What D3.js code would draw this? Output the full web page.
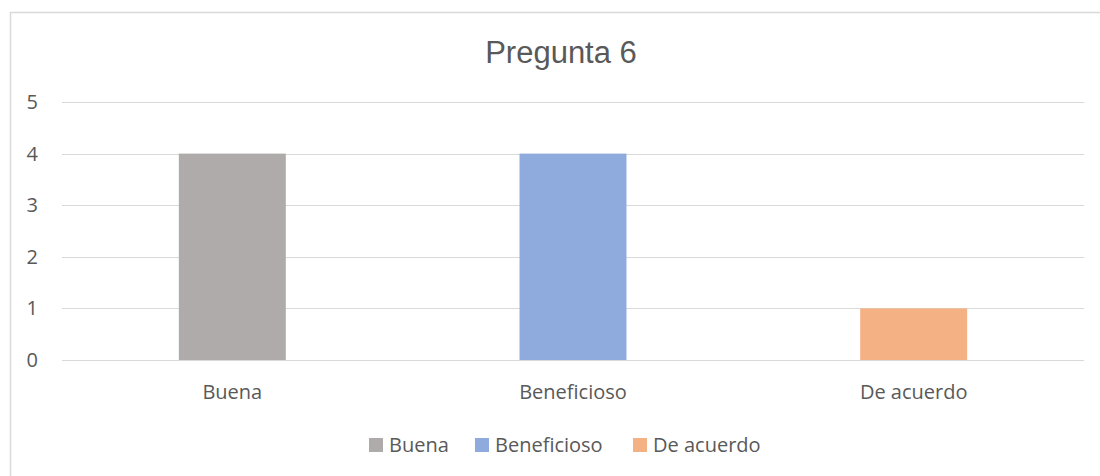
<!DOCTYPE html>
<html lang="es">
<meta charset="UTF-8">
<style>
    body { margin: 0; background: #fff; }
    .grid line { stroke: #d9d9d9; stroke-width: 1px; }
    .tick-label, .cat-label, .legend text {
        font-family: "Open Sans", sans-serif;
        font-size: 20px;
        fill: #595959;
    }
    .title {
        font-family: "Liberation Sans", Arial, sans-serif;
        font-size: 31px;
        fill: #595959;
    }
</style>
<body>
<svg id="chart" width="1100" height="476"></svg>
<script src="https://d3js.org/d3.v7.min.js"></script>
<script>
// data
const categories = ["Buena", "Beneficioso", "De acuerdo"];
const values = [4, 4, 1];
const yTicks = [0, 1, 2, 3, 4, 5];
const colors = ["#afabab", "#8faadc", "#f4b183"];

const svg = d3.select("#chart");
const plot = {left: 62, right: 1084, top: 102, bottom: 360};

// outer frame (runs off the right and bottom edge)
svg.append("rect")
    .attr("x", 10.5).attr("y", 12.5)
    .attr("width", 1200).attr("height", 600)
    .attr("fill", "none")
    .attr("stroke", "#d9d9d9")
    .attr("stroke-width", 1.5);

svg.append("text")
    .attr("class", "title")
    .attr("x", 561).attr("y", 63)
    .attr("text-anchor", "middle")
    .text("Pregunta 6");

const x = d3.scaleBand()
    .domain(categories)
    .range([plot.left, plot.right])
    .padding(0);

const y = d3.scaleLinear()
    .domain([0, 5])
    .range([plot.bottom, plot.top]);

// gridlines
svg.append("g").attr("class", "grid")
    .selectAll("line").data(yTicks)
    .enter().append("line")
    .attr("x1", plot.left).attr("x2", plot.right)
    .attr("y1", d => Math.round(y(d)) + 0.5)
    .attr("y2", d => Math.round(y(d)) + 0.5);

svg.append("g")
    .selectAll("text").data(yTicks)
    .enter().append("text")
    .attr("class", "tick-label")
    .attr("x", 38)
    .attr("y", d => y(d))
    .attr("dy", "0.35em")
    .attr("text-anchor", "end")
    .text(d => d);

// bars
const barFrac = 0.314;
const barW = x.bandwidth() * barFrac;
svg.append("g")
    .selectAll("rect").data(categories)
    .enter().append("rect")
    .attr("x", d => x(d) + (x.bandwidth() - barW) / 2)
    .attr("y", (d, i) => y(values[i]))
    .attr("width", barW)
    .attr("height", (d, i) => y(0) - y(values[i]))
    .attr("fill", (d, i) => colors[i]);

// category labels
svg.append("g")
    .selectAll("text").data(categories)
    .enter().append("text")
    .attr("class", "cat-label")
    .attr("x", d => x(d) + x.bandwidth() / 2)
    .attr("y", 399)
    .attr("text-anchor", "middle")
    .text(d => d);

// legend
const legendX = [369, 475, 633];
const legend = svg.append("g").attr("class", "legend");
categories.forEach((c, i) => {
    legend.append("rect")
        .attr("x", legendX[i]).attr("y", 438)
        .attr("width", 14).attr("height", 14)
        .attr("fill", colors[i]);
    legend.append("text")
        .attr("x", legendX[i] + 20).attr("y", 452)
        .text(c);
});
</script>
</body>
</html>
